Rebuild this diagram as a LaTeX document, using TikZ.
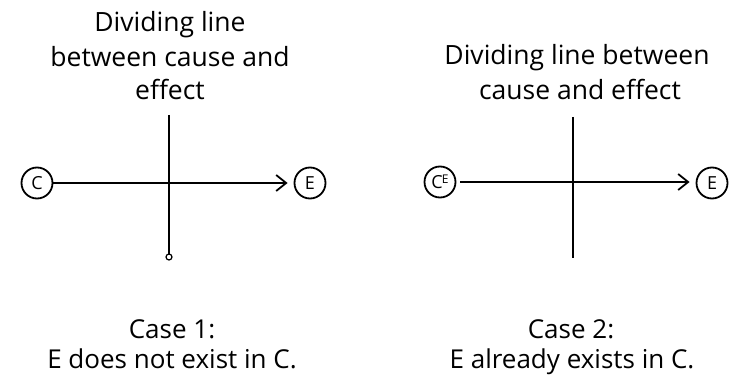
\documentclass[tikz,border=0pt]{standalone}
\usepackage{fontspec}
\setmainfont{Open Sans}
\usetikzlibrary{arrows.meta}
\tikzset{
  toptext/.style={anchor=base, inner sep=0pt, font=\fontsize{26.5}{30}\selectfont},
  bottext/.style={anchor=base, inner sep=0pt, font=\fontsize{26}{30}\selectfont},
  ring/.style={circle, draw, line width=1.8pt, minimum size=31pt, inner sep=0pt, font=\fontsize{18}{20}\selectfont},
  flow/.style={line width=1.8pt, -{Straight Barb[length=10pt,width=16pt,line width=1.8pt]}},
  divider/.style={line width=1.8pt}
}
\begin{document}
\begin{tikzpicture}[x=1pt,y=-1pt]
\useasboundingbox (0,0) rectangle (734,377);
% left panel
\node[toptext] (l1) at (170,32) {Dividing line};
\node[toptext] (l2) at (170,67) {between cause and};
\node[toptext] (l3) at (170,100) {effect};
\node[ring] (c1) at (37,183) {C};
\node[ring] (e1) at (310,183) {E};
\coordinate (t1) at (169,115);
\coordinate (b1) at (169,254);
\draw[divider] (t1) -- (b1);
\node[circle, draw, line width=1.2pt, minimum size=6pt, inner sep=0pt, fill=white] (o1) at (169,257) {};
\draw[flow, shorten >=6pt] (c1) -- (e1);
\node[bottext] (s1) at (172,338) {Case 1:};
\node[bottext] (s2) at (172,368) {E does not exist in C.};
% right panel
\node[toptext] (r1) at (577,65) {Dividing line between};
\node[toptext] (r2) at (580,100) {cause and effect};
\node[ring] (c2) at (440,182) {C\kern-1pt\raisebox{0.5ex}{\fontsize{12}{13}\selectfont E}};
\node[ring] (e2) at (712,183) {E};
\coordinate (t2) at (573,117);
\coordinate (b2) at (573,258);
\draw[divider] (t2) -- (b2);
\draw[flow, shorten >=6pt, shorten <=4pt] (c2.east) -- (e2.west |- c2.east);
\node[bottext] (s3) at (571,338) {Case 2:};
\node[bottext] (s4) at (572,368) {E already exists in C.};
\end{tikzpicture}
\end{document}
